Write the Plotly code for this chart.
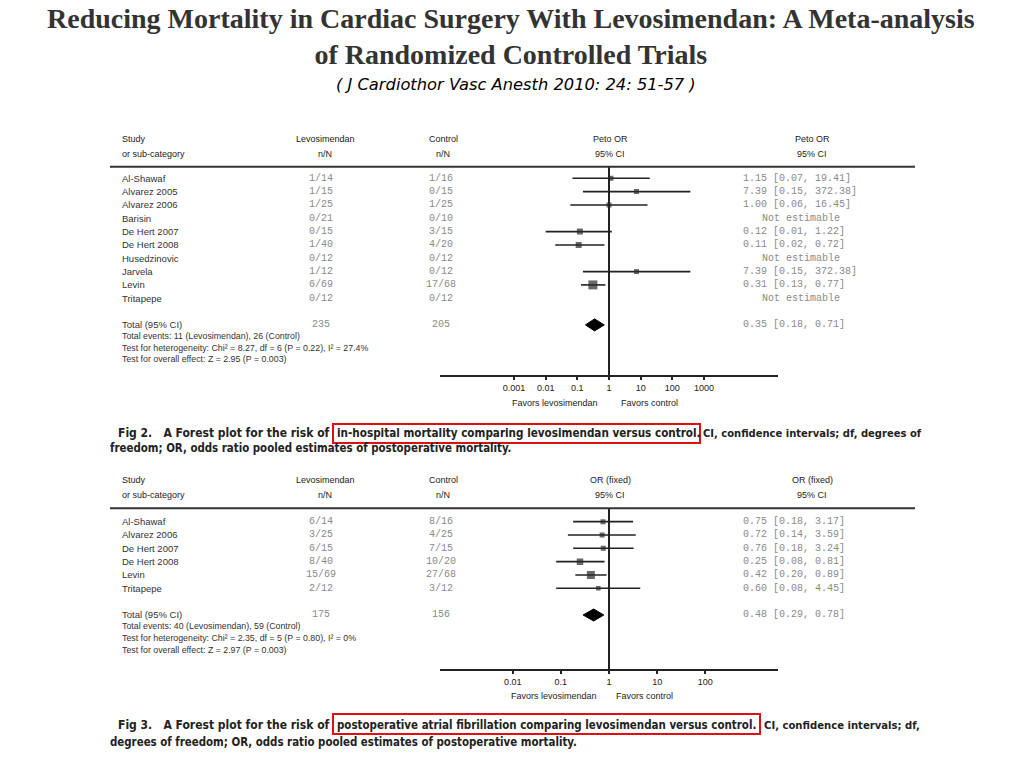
import plotly.graph_objects as go

# ---------------- data: Fig 2 (in-hospital mortality, Peto OR) ----------------
studies1 = ["Al-Shawaf", "Alvarez 2005", "Alvarez 2006", "Barisin", "De Hert 2007",
            "De Hert 2008", "Husedzinovic", "Jarvela", "Levin", "Tritapepe"]
levo1 = ["1/14", "1/15", "1/25", "0/21", "0/15", "1/40", "0/12", "1/12", "6/69", "0/12"]
ctrl1 = ["1/16", "0/15", "1/25", "0/10", "3/15", "4/20", "0/12", "0/12", "17/68", "0/12"]
or1 = [1.15, 7.39, 1.00, None, 0.12, 0.11, None, 7.39, 0.31, None]
lo1 = [0.07, 0.15, 0.06, None, 0.01, 0.02, None, 0.15, 0.13, None]
hi1 = [19.41, 372.38, 16.45, None, 1.22, 0.72, None, 372.38, 0.77, None]
total1 = [0.35, 0.18, 0.71]
totalN1 = ["235", "205"]
notes1 = ["Total events: 11 (Levosimendan), 26 (Control)",
          "Test for heterogeneity: Chi² = 8.27, df = 6 (P = 0.22), I² = 27.4%",
          "Test for overall effect: Z = 2.95 (P = 0.003)"]
ticks1 = [0.001, 0.01, 0.1, 1, 10, 100, 1000]
ticklabels1 = ["0.001", "0.01", "0.1", "1", "10", "100", "1000"]

# ---------------- data: Fig 3 (postoperative AF, OR fixed) ----------------
studies2 = ["Al-Shawaf", "Alvarez 2006", "De Hert 2007", "De Hert 2008", "Levin", "Tritapepe"]
levo2 = ["6/14", "3/25", "6/15", "8/40", "15/69", "2/12"]
ctrl2 = ["8/16", "4/25", "7/15", "10/20", "27/68", "3/12"]
or2 = [0.75, 0.72, 0.76, 0.25, 0.42, 0.60]
lo2 = [0.18, 0.14, 0.18, 0.08, 0.20, 0.08]
hi2 = [3.17, 3.59, 3.24, 0.81, 0.89, 4.45]
total2 = [0.48, 0.29, 0.78]
totalN2 = ["175", "156"]
notes2 = ["Total events: 40 (Levosimendan), 59 (Control)",
          "Test for heterogeneity: Chi² = 2.35, df = 5 (P = 0.80), I² = 0%",
          "Test for overall effect: Z = 2.97 (P = 0.003)"]
ticks2 = [0.01, 0.1, 1, 10, 100]
ticklabels2 = ["0.01", "0.1", "1", "10", "100"]

# ---------------- styles ----------------
marker_px1 = [5, 5, 5, 0, 6, 6, 0, 5, 9, 0]
marker_px2 = [5, 5, 5, 6.5, 8, 4.5]
W, H = 1024, 768
SANS = "Liberation Sans, Arial, sans-serif"
MONO = "Liberation Mono, Courier New, monospace"
SERIF = "Liberation Serif, Times New Roman, serif"
NARROW = "Liberation Sans Narrow, Arial Narrow, DejaVu Sans Condensed, sans-serif"
INK = "#222222"
GRAY = "#8a8a8a"


def P(x):
    return x / W


def Q(y):
    return 1 - y / H


annotations = []
shapes = []


def text(t, x, y, size, family, color=INK, xanchor="left", yref="paper"):
    annotations.append(dict(text=t, x=x, y=y, xref="paper", yref=yref,
                            xanchor=xanchor, yanchor="middle", showarrow=False,
                            font=dict(size=size, family=family, color=color)))


fig = go.Figure()


def forest(studies, levo, ctrl, est, lo, hi, total, totalN, notes, sizes,
           xa, ya, head_y, total_idx, title_or):
    yref = ya
    n = len(studies)
    idx = list(range(n))
    # CI lines
    lx, ly = [], []
    for i in idx:
        if est[i] is not None:
            lx += [lo[i], hi[i], None]
            ly += [i, i, None]
    fig.add_trace(go.Scatter(x=lx, y=ly, mode="lines", xaxis=xa, yaxis=ya,
                             line=dict(color=INK, width=1.6), hoverinfo="skip",
                             showlegend=False))
    # point estimates
    mx = [est[i] for i in idx if est[i] is not None]
    my = [i for i in idx if est[i] is not None]
    ms = [sizes[i] for i in idx if est[i] is not None]
    fig.add_trace(go.Scatter(x=mx, y=my, mode="markers", xaxis=xa, yaxis=ya,
                             marker=dict(symbol="square", size=ms, color="#2a2a2a",
                                         line=dict(width=0)),
                             showlegend=False))
    # pooled diamond
    e, l, h = total
    hh = 0.45
    fig.add_trace(go.Scatter(x=[l, e, h, e, l], y=[total_idx, total_idx - hh, total_idx,
                                                   total_idx + hh, total_idx],
                             mode="lines", fill="toself", fillcolor="#000000",
                             line=dict(color="#000000", width=1), xaxis=xa, yaxis=ya,
                             showlegend=False))
    # line of no effect
    shapes.append(dict(type="line", xref=xa, yref=f"{ya} domain", x0=1, x1=1, y0=0, y1=1,
                       line=dict(color=INK, width=2)))
    # header
    text("Study", P(120), Q(head_y - 28), 9, SANS)
    text("or sub-category", P(120), Q(head_y - 13), 9, SANS)
    text("Levosimendan", P(325), Q(head_y - 28), 9, SANS, xanchor="center")
    text("n/N", P(325), Q(head_y - 13), 9, SANS, xanchor="center")
    text("Control", P(443), Q(head_y - 28), 9, SANS, xanchor="center")
    text("n/N", P(443), Q(head_y - 13), 9, SANS, xanchor="center")
    text(title_or, P(610), Q(head_y - 28), 9, SANS, xanchor="center")
    text("95% CI", P(610), Q(head_y - 13), 9, SANS, xanchor="center")
    text(title_or, P(812), Q(head_y - 28), 9, SANS, xanchor="center")
    text("95% CI", P(812), Q(head_y - 13), 9, SANS, xanchor="center")
    shapes.append(dict(type="line", xref="paper", yref="paper", x0=P(110), x1=P(915),
                       y0=Q(head_y), y1=Q(head_y), line=dict(color="#333333", width=2)))
    # rows
    for i in idx:
        text(studies[i], P(120), i, 9.5, SANS, color="#333333", yref=yref)
        text(levo[i], P(321), i, 10, MONO, color=GRAY, xanchor="center", yref=yref)
        text(ctrl[i], P(441), i, 10, MONO, color=GRAY, xanchor="center", yref=yref)
        if est[i] is None:
            text("Not estimable", P(801), i, 10, MONO, color=GRAY, xanchor="center", yref=yref)
        else:
            text(f"{est[i]:.2f} [{lo[i]:.2f}, {hi[i]:.2f}]", P(741), i, 10, MONO,
                 color=GRAY, yref=yref)
    text("Total (95% CI)", P(120), total_idx, 9.5, SANS, color="#333333", yref=yref)
    text(totalN[0], P(321), total_idx, 10, MONO, color=GRAY, xanchor="center", yref=yref)
    text(totalN[1], P(441), total_idx, 10, MONO, color=GRAY, xanchor="center", yref=yref)
    text(f"{e:.2f} [{l:.2f}, {h:.2f}]", P(741), total_idx, 10, MONO, color=GRAY, yref=yref)
    for k, note in enumerate(notes):
        text(note, P(120), total_idx + 0.85 + 0.87 * k, 8.8, SANS, color="#333333", yref=yref)


# Fig 2 block
forest(studies1, levo1, ctrl1, or1, lo1, hi1, total1, totalN1, notes1, marker_px1,
       "x", "y", 166.7, 11, "Peto OR")
# Fig 3 block
forest(studies2, levo2, ctrl2, or2, lo2, hi2, total2, totalN2, notes2, marker_px2,
       "x2", "y2", 508.3, 7, "OR (fixed)")

# favours labels
text("Favors levosimendan", P(555), Q(403), 9, SANS, xanchor="center")
text("Favors control", P(649), Q(403), 9, SANS, xanchor="center")
text("Favors levosimendan", P(554), Q(696), 9, SANS, xanchor="center")
text("Favors control", P(644), Q(696), 9, SANS, xanchor="center")

# titles (one two-line text block)
text("<b>Reducing Mortality in Cardiac Surgery With Levosimendan: A Meta-analysis</b><br>"
     "<b>of Randomized Controlled Trials</b>",
     P(511), Q(36), 28, SERIF, color="#333333", xanchor="center")
text("<i>( J Cardiothor Vasc Anesth 2010: 24: 51-57 )</i>", P(516), Q(84), 16.3,
     "DejaVu Sans, sans-serif", color="#000000", xanchor="center")

# captions
text("<b>Fig 2.   A Forest plot for the risk of</b>", P(332), Q(433), 12, NARROW, xanchor="right")
text("<b>in-hospital mortality comparing levosimendan versus control.</b>", P(335), Q(433), 11.6, NARROW)
text("<b>CI, confidence intervals; df, degrees of</b>", P(701), Q(433), 11.1, NARROW)
text("<b>freedom; OR, odds ratio pooled estimates of postoperative mortality.</b>", P(108), Q(448), 11.4, NARROW)
shapes.append(dict(type="rect", xref="paper", yref="paper", x0=P(333), x1=P(700),
                   y0=Q(443), y1=Q(424), line=dict(color="#e01010", width=2)))

text("<b>Fig 3.   A Forest plot for the risk of</b>", P(332), Q(725), 12, NARROW, xanchor="right")
text("<b>postoperative atrial fibrillation comparing levosimendan versus control.</b>", P(335), Q(725), 11.45, NARROW)
text("<b>CI, confidence intervals; df,</b>", P(762), Q(725), 11.2, NARROW)
text("<b>degrees of freedom; OR, odds ratio pooled estimates of postoperative mortality.</b>", P(108), Q(742), 11.4, NARROW)
shapes.append(dict(type="rect", xref="paper", yref="paper", x0=P(333), x1=P(760),
                   y0=Q(734), y1=Q(714), line=dict(color="#e01010", width=2)))

axis_common = dict(type="log", showgrid=False, zeroline=False, showline=True,
                   linecolor=INK, linewidth=1.6, ticks="outside", ticklen=3, tickwidth=1.5,
                   tickcolor=INK, tickfont=dict(size=9, family=SANS, color=INK),
                   fixedrange=True)

fig.update_layout(
    width=W, height=H, margin=dict(l=0, r=0, t=0, b=0),
    paper_bgcolor="white", plot_bgcolor="white", showlegend=False,
    xaxis=dict(axis_common, domain=[P(440), P(778)], range=[-5.34, 5.34],
               tickvals=ticks1, ticktext=ticklabels1, anchor="y"),
    yaxis=dict(domain=[Q(375), Q(166.7)], range=[14.76, -0.87], visible=False,
               fixedrange=True, anchor="x"),
    xaxis2=dict(axis_common, domain=[P(440), P(778)], range=[-3.51, 3.51],
                tickvals=ticks2, ticktext=ticklabels2, anchor="y2"),
    yaxis2=dict(domain=[Q(669), Q(508.3)], range=[11.05, -1.0], visible=False,
                fixedrange=True, anchor="x2"),
    annotations=annotations, shapes=shapes,
)

fig.write_html("out.html", config={"displayModeBar": False},
               post_script="document.body.style.margin='0px';document.body.style.overflow='hidden';")
